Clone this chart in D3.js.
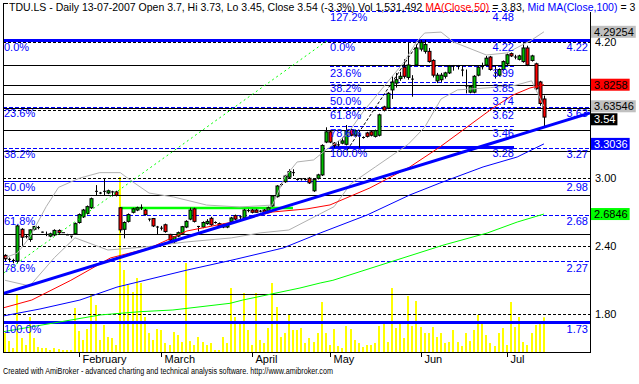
<!DOCTYPE html>
<html><head><meta charset="utf-8">
<script src="https://cdn.jsdelivr.net/npm/d3@7/dist/d3.min.js"></script>
<style>html,body{margin:0;padding:0;background:#fff;overflow:hidden}svg{display:block}</style>
</head><body><svg id="chart" width="639" height="384"></svg>
<script>
// ---------------- DATA ----------------
const firstDate = "2007-01-08";
const holidays = ["2007-04-06", "2007-04-09", "2007-05-01"];
const monthLabels = ["February", "March", "April", "May", "Jun", "Jul"];

const open  = [2.32,2.29,2.28,2.27,2.55,2.49,2.46,2.55,2.57,2.53,2.51,2.49,2.50,2.54,2.52,2.50,2.49,2.51,2.61,2.66,2.69,2.74,2.89,2.87,2.88,2.87,2.88,2.88,2.74,2.55,2.62,2.70,2.72,2.74,2.72,2.64,2.645,2.57,2.56,2.59,2.505,2.44,2.49,2.515,2.57,2.64,2.73,2.58,2.57,2.60,2.647,2.61,2.60,2.59,2.57,2.62,2.67,2.66,2.65,2.72,2.72,2.72,2.71,2.72,2.71,2.756,2.838,2.94,2.97,3.01,3.05,2.99,3.00,2.99,3.00,2.89,3.00,3.03,3.32,3.41,3.31,3.29,3.31,3.30,3.43,3.38,3.38,3.36,3.40,3.41,3.37,3.38,3.63,3.62,3.78,3.84,3.88,3.98,3.89,3.88,4.00,4.14,4.12,4.12,4.04,3.86,3.87,3.90,3.93,3.99,3.99,3.96,3.82,3.76,3.76,3.91,3.98,4.00,4.07,3.93,3.91,3.96,4.01,4.10,4.07,4.05,4.03,4.15,4.04,4.01,3.85,3.70];
const high  = [2.33,2.30,2.29,2.59,2.56,2.50,2.55,2.58,2.58,2.53,2.53,2.52,2.55,2.55,2.52,2.51,2.49,2.61,2.69,2.73,2.76,2.83,2.94,2.88,3.00,2.90,2.89,2.89,2.745,2.62,2.69,2.74,2.75,2.77,2.73,2.645,2.65,2.58,2.58,2.60,2.51,2.49,2.53,2.58,2.63,2.74,2.74,2.58,2.62,2.64,2.66,2.62,2.61,2.60,2.60,2.66,2.68,2.67,2.73,2.73,2.73,2.73,2.72,2.73,2.75,2.85,2.94,2.96,3.03,3.08,3.08,3.00,3.00,3.00,3.01,3.00,3.04,3.30,3.45,3.42,3.32,3.33,3.36,3.47,3.44,3.43,3.40,3.37,3.41,3.42,3.43,3.57,3.64,3.76,3.90,3.93,3.94,4.05,4.20,3.91,4.18,4.22,4.22,4.15,4.05,3.93,3.93,3.94,4.00,4.00,4.00,3.99,3.96,3.82,3.91,3.99,4.02,4.08,4.08,3.99,3.97,4.04,4.10,4.11,4.09,4.09,4.19,4.17,4.09,4.02,3.86,3.73];
const low   = [2.27,2.26,2.25,2.25,2.40,2.47,2.44,2.54,2.55,2.52,2.49,2.48,2.49,2.51,2.52,2.50,2.47,2.50,2.60,2.65,2.68,2.73,2.85,2.86,2.85,2.86,2.84,2.84,2.52,2.47,2.61,2.69,2.71,2.72,2.67,2.62,2.57,2.50,2.54,2.52,2.44,2.43,2.48,2.51,2.56,2.63,2.61,2.53,2.56,2.59,2.58,2.60,2.57,2.56,2.56,2.61,2.63,2.64,2.64,2.70,2.69,2.70,2.70,2.69,2.70,2.75,2.83,2.93,2.96,3.00,3.02,2.98,2.98,2.98,2.95,2.88,2.99,3.02,3.31,3.31,3.27,3.28,3.30,3.29,3.37,3.37,3.27,3.35,3.36,3.37,3.36,3.37,3.59,3.61,3.70,3.80,3.86,3.88,3.87,3.72,3.99,4.12,4.10,4.02,3.89,3.84,3.85,3.88,3.92,3.95,3.96,3.90,3.75,3.75,3.75,3.90,3.96,3.99,3.95,3.88,3.90,3.95,4.00,4.07,4.05,4.04,4.02,3.99,4.03,3.78,3.64,3.45];
const close = [2.29,2.28,2.27,2.58,2.48,2.48,2.545,2.575,2.56,2.52,2.50,2.51,2.54,2.52,2.52,2.50,2.49,2.60,2.68,2.72,2.75,2.82,2.88,2.87,2.89,2.89,2.88,2.85,2.545,2.61,2.68,2.73,2.74,2.74,2.68,2.64,2.58,2.57,2.56,2.53,2.455,2.485,2.52,2.573,2.62,2.72,2.62,2.57,2.61,2.62,2.59,2.61,2.58,2.57,2.59,2.65,2.64,2.66,2.72,2.71,2.70,2.70,2.71,2.70,2.74,2.844,2.932,2.95,3.02,3.06,3.05,2.99,2.99,2.99,2.96,2.99,3.03,3.29,3.41,3.32,3.29,3.30,3.33,3.42,3.38,3.42,3.38,3.36,3.37,3.38,3.42,3.56,3.60,3.75,3.85,3.87,3.90,3.90,4.00,3.87,4.15,4.20,4.18,4.03,3.91,3.91,3.91,3.93,3.99,3.99,3.99,3.95,3.81,3.81,3.90,3.98,3.99,4.06,3.96,3.93,3.96,4.03,4.09,4.08,4.07,4.08,4.15,4.00,4.08,3.79,3.66,3.54];
// volume in thousands of shares
const volume = [838,485,177,2515,618,309,1545,618,221,177,177,88,177,132,88,88,88,1942,927,530,1015,2515,2074,530,1192,662,618,309,7723,3619,2957,2648,3266,3045,1545,838,530,1015,971,397,309,883,750,441,3928,485,309,662,441,309,397,88,88,662,397,2824,1545,1280,2604,971,309,2604,530,397,1059,3045,1986,662,838,1633,971,971,1059,397,618,441,838,2207,838,309,1015,265,177,1147,1015,530,397,221,309,309,397,1147,1280,441,2824,1059,1280,618,2471,1147,2251,1103,838,838,1103,662,838,397,441,971,441,265,838,485,971,1633,1280,750,397,265,838,1059,309,2207,1103,1545,441,309,838,1192,1280,1531.492];

// moving averages & bands read at sample bars: [barIndex, price]
const ma50  = [[-0.5,1.856],[6.5,1.926],[16,2.10],[25.6,2.297],[35.2,2.385],[44.2,2.535],[55.4,2.615],[65.1,2.703],[73.4,2.73],[79,2.765],[88.7,2.915],[98.4,3.10],[105.7,3.276],[112.3,3.452],[118.6,3.62],[123.5,3.735],[127.6,3.797],[131,3.8258]];
const ma100 = [[-0.5,1.785],[8.5,1.847],[18.2,1.926],[27.2,2.04],[44.2,2.19],[55.4,2.28],[67.6,2.385],[76.6,2.517],[88,2.676],[98.4,2.853],[105.7,2.958],[116.2,3.10],[124.5,3.188],[131,3.3036]];
const ma200 = [[-0.5,1.646],[23.1,1.794],[32.8,1.823],[40.8,1.838],[54.7,1.897],[57.8,1.926],[71.7,2.032],[76.6,2.076],[79.7,2.10],[93.6,2.261],[106.5,2.41],[117.2,2.517],[124.5,2.614],[131,2.6846]];
const bbUpper = [[0,2.30],[3,2.34],[6,2.48],[10,2.75],[13,2.92],[18,3.00],[23,3.05],[28,3.05],[31,2.97],[35,2.87],[41,2.835],[49,2.764],[57,2.747],[65,2.764],[68,3.01],[71,3.144],[75,3.162],[78,3.25],[83,3.38],[87,3.585],[93,3.85],[97,4.026],[100,4.203],[102,4.282],[106,4.29],[109,4.203],[117,4.088],[122,4.106],[128,4.22],[131,4.29254]];
const bbLower = [[0,2.10],[6,2.05],[12,2.30],[17,2.475],[25,2.367],[34,2.394],[44,2.438],[55,2.474],[62,2.518],[69,2.544],[77,2.694],[80,2.75],[84,2.95],[90,3.10],[98,3.30],[102,3.45],[106,3.70],[110,3.78],[118,3.80],[124,3.82],[128,3.86],[131,3.63546]];

// drawn studies
const gridLevels = [1.80, 2.40, 3.00, 3.60, 4.20];
const axisLabels = [1.80, 2.40, 3.00, 4.20];
const hLines = [4.00, 3.8206, 3.7412, 3.6176, 3.4235, 3.2409, 2.85, 2.5067, 1.9764];
const fibLevels = [0, 0.236, 0.382, 0.5, 0.618, 0.786, 1];
const fibNames  = ["0.0%", "23.6%", "38.2%", "50.0%", "61.8%", "78.6%", "100.0%"];
const fib1Values = [4.22, 3.63, 3.27, 2.98, 2.68, 2.27, 1.73];
const fib1Trend = [[-17, 1.73], [78.5, 4.22]];
const fib2Values = [4.22, 3.99, 3.85, 3.74, 3.62, 3.46, 3.28];
const fib2Ext = {name: "127.2%", value: 4.48};
const fib2Range = [79, 123.7];
const fib2Trend = [[83.2, 3.25], [100.9, 4.22]];
const trendLine = [[-0.5, 1.984], [142.2, 3.576]];
const resistance = {from: 28, to: 70, value: 2.738};
const valueTags = [
  {v: 4.29254, text: "4.29254", bg: "#c0c0c0", fg: "#000"},
  {v: 3.8258, text: "3.8258", bg: "#ff0000", fg: "#000"},
  {v: 3.63546, text: "3.63546", bg: "#c0c0c0", fg: "#000"},
  {v: 3.54, text: "3.54", bg: "#000000", fg: "#fff"},
  {v: 3.3036, text: "3.3036", bg: "#0000ff", fg: "#fff"},
  {v: 2.6846, text: "2.6846", bg: "#00ff00", fg: "#000"}
];

// ---------------- CHART ----------------
const svg = d3.select("#chart");
const FONT = "'Liberation Sans', Arial, sans-serif";
const L = 3, R = 590, T = 3, B = 352;
const nExtra = 142.2;

// dates
const hol = new Set(holidays);
const dates = [];
{
  let d = new Date(firstDate + "T12:00:00Z");
  while (dates.length < open.length) {
    const wd = d.getUTCDay();
    const iso = d.toISOString().slice(0, 10);
    if (wd !== 0 && wd !== 6 && !hol.has(iso)) dates.push(new Date(d));
    d = new Date(d.getTime() + 86400000);
  }
}

const x = d3.scaleLinear().domain([-0.5, nExtra]).range([L, R]);
const y = d3.scaleLinear().domain([1.80, 4.20]).range([314.3, 42.3]);
const yv = d3.scaleLinear().domain([0, 1531.492]).range([B, 317.3]);

svg.append("rect").attr("width", 639).attr("height", 384).attr("fill", "#fff");
svg.append("clipPath").attr("id", "plot").append("rect")
  .attr("x", L).attr("y", T).attr("width", R - L).attr("height", B - T);
const g = svg.append("g").attr("clip-path", "url(#plot)");

const py = v => Math.round(y(v)) + 0.5;

// volume
g.append("g").selectAll("rect").data(volume).join("rect")
  .attr("x", (d, i) => Math.round(x(i)) - 1)
  .attr("width", 2)
  .attr("y", d => yv(d))
  .attr("height", d => B - yv(d))
  .attr("fill", "#ffff00");

// black horizontal study lines
g.append("g").selectAll("line").data(hLines).join("line")
  .attr("x1", L).attr("x2", R).attr("y1", py).attr("y2", py)
  .attr("stroke", "#000").attr("stroke-width", 1).attr("shape-rendering", "crispEdges");

// grid dashed
g.append("g").selectAll("line").data(gridLevels).join("line")
  .attr("x1", L).attr("x2", R).attr("y1", py).attr("y2", py)
  .attr("stroke", "#000").attr("stroke-dasharray", "3,2").attr("shape-rendering", "crispEdges");

// Fib 1 lines
function fibStyle(sel, k) {
  if (k === 0 || k === 6) sel.attr("stroke-width", 3);
  else if (k === 3) sel.attr("stroke-width", 1);
  else sel.attr("stroke-width", 1).attr("stroke-dasharray", "4,2");
}
fibLevels.forEach((f, k) => {
  const ln = g.append("line").attr("x1", L).attr("x2", R)
    .attr("y1", py(fib1Values[k])).attr("y2", py(fib1Values[k]))
    .attr("stroke", "#0000ff").attr("shape-rendering", "crispEdges");
  fibStyle(ln, k);
});
// Fib 2 lines
fibLevels.forEach((f, k) => {
  const ln = g.append("line").attr("x1", x(fib2Range[0])).attr("x2", x(fib2Range[1]))
    .attr("y1", py(fib2Values[k])).attr("y2", py(fib2Values[k]))
    .attr("stroke", "#0000ff").attr("shape-rendering", "crispEdges");
  fibStyle(ln, k);
});
g.append("line").attr("x1", x(fib2Range[0])).attr("x2", x(fib2Range[1]))
  .attr("y1", py(fib2Ext.value)).attr("y2", py(fib2Ext.value))
  .attr("stroke", "#0000ff").attr("stroke-dasharray", "4,2").attr("shape-rendering", "crispEdges");

// green resistance
g.append("line").attr("x1", x(resistance.from)).attr("x2", x(resistance.to))
  .attr("y1", y(resistance.value)).attr("y2", y(resistance.value))
  .attr("stroke", "#00ff00").attr("stroke-width", 2.5);

// candles
const cg = g.append("g");
close.forEach((c, i) => {
  const o = open[i], cx = Math.round(x(i)) + 0.5;
  cg.append("line").attr("x1", cx).attr("x2", cx).attr("y1", y(high[i])).attr("y2", y(low[i]))
    .attr("stroke", "#000").attr("stroke-width", 1);
  const top = y(Math.max(o, c)), bot = y(Math.min(o, c));
  if (bot - top < 1.5) {
    cg.append("line").attr("x1", cx - 1.5).attr("x2", cx + 1.5).attr("y1", (top + bot) / 2).attr("y2", (top + bot) / 2)
      .attr("stroke", "#000");
  } else {
    cg.append("rect").attr("x", cx - 1.5).attr("width", 3).attr("y", top).attr("height", bot - top)
      .attr("fill", c >= o ? "#00c000" : "#ff0000").attr("stroke", "#000").attr("stroke-width", 1);
  }
});

// lines
const line = d3.line().x(d => x(d[0])).y(d => y(d[1]));
[[bbUpper, "#b0b0b0"], [bbLower, "#b0b0b0"], [ma200, "#00ff00"], [ma100, "#0000ff"], [ma50, "#ff0000"]]
  .forEach(([d, c]) => g.append("path").attr("d", line(d)).attr("fill", "none").attr("stroke", c).attr("stroke-width", 1));

// trend line thick blue
g.append("path").attr("d", line(trendLine)).attr("stroke", "#0000ff").attr("stroke-width", 3);
// fib trend lines
g.append("path").attr("d", line(fib1Trend)).attr("stroke", "#00ff00").attr("stroke-width", 1).attr("stroke-dasharray", "2,3");
g.append("path").attr("d", line(fib2Trend)).attr("stroke", "#000").attr("stroke-width", 1).attr("stroke-dasharray", "3,2");

// fib labels
const lab = g.append("g").attr("font-family", FONT).attr("font-size", 11).attr("fill", "#0000ff");
fibLevels.forEach((f, k) => {
  lab.append("text").attr("x", L + 1).attr("y", y(fib1Values[k]) + 10.5).text(fibNames[k]);
  lab.append("text").attr("x", R - 2).attr("y", y(fib1Values[k]) + 10.5).attr("text-anchor", "end").text(fib1Values[k].toFixed(2));
  lab.append("text").attr("x", x(fib2Range[0])).attr("y", y(fib2Values[k]) + 10.5).text(fibNames[k]);
  lab.append("text").attr("x", x(fib2Range[1])).attr("y", y(fib2Values[k]) + 10.5).attr("text-anchor", "end").text(fib2Values[k].toFixed(2));
});
lab.append("text").attr("x", x(fib2Range[0])).attr("y", y(fib2Ext.value) + 10.5).text(fib2Ext.name);
lab.append("text").attr("x", x(fib2Range[1])).attr("y", y(fib2Ext.value) + 10.5).attr("text-anchor", "end").text(fib2Ext.value.toFixed(2));

// frame
const fr = svg.append("g").attr("stroke", "#000").attr("shape-rendering", "crispEdges");
fr.append("line").attr("x1", L + 0.5).attr("x2", L + 0.5).attr("y1", T).attr("y2", B + 1);
fr.append("line").attr("x1", L).attr("x2", L + 5).attr("y1", T + 0.5).attr("y2", T + 0.5);
fr.append("line").attr("x1", R + 0.5).attr("x2", R + 0.5).attr("y1", 12).attr("y2", B + 1);
fr.append("line").attr("x1", L).attr("x2", R + 1).attr("y1", B + 0.5).attr("y2", B + 0.5);

// right axis labels
svg.append("g").selectAll("text").data(axisLabels).join("text")
  .attr("x", 595).attr("y", d => y(d) + 4).attr("font-family", FONT).attr("font-size", 11)
  .attr("fill", "#000").text(d => d.toFixed(2));

// value tags (pushed apart when they would overlap)
{
  const tags = valueTags.map(t => ({...t, cy: y(t.v)})).sort((a, b) => a.cy - b.cy);
  let prevBottom = -Infinity;
  tags.forEach(t => {
    let top = t.cy - 6;
    if (top < prevBottom + 1) top = prevBottom + 1;
    prevBottom = top + 12;
    const tx = svg.append("text").attr("x", 594).attr("y", top + 10).attr("font-family", FONT).attr("font-size", 11)
      .attr("fill", t.fg).text(t.text);
    const w = tx.node().getComputedTextLength();
    svg.insert("rect", () => tx.node()).attr("x", 591).attr("y", top).attr("width", w + 5).attr("height", 12).attr("fill", t.bg);
  });
}

// x axis months
const ticks = [];
for (let i = 1; i < dates.length; i++) if (dates[i].getUTCMonth() !== dates[i - 1].getUTCMonth()) ticks.push(i);
ticks.forEach((i, k) => {
  const tx = Math.round(x(i)) + 0.5;
  svg.append("line").attr("x1", tx).attr("x2", tx).attr("y1", B).attr("y2", B + 5).attr("stroke", "#000").attr("shape-rendering", "crispEdges");
  svg.append("text").attr("x", tx + 3).attr("y", 363).attr("font-family", FONT).attr("font-size", 11).attr("fill", "#000").text(monthLabels[k]);
});

// title (single text line with coloured parts, as visible in the window)
const titleParts = [
  {t: "TDU.LS - Daily 13-07-2007 Open 3.7, Hi 3.73, Lo 3.45, Close 3.54 (-3.3%) Vol 1,531,492 ", c: "#000"},
  {t: "MA(Close,50)", c: "#ff0000"},
  {t: " = 3.83, ", c: "#000"},
  {t: "Mid MA(Close,100)", c: "#0000ff"},
  {t: " = 3", c: "#000"}
];
const tt = svg.append("text").attr("x", 9).attr("y", 10.5).attr("font-family", FONT).attr("font-size", 10.5)
  .attr("xml:space", "preserve").style("white-space", "pre");
titleParts.forEach(p => tt.append("tspan").attr("fill", p.c).text(p.t));

// footer
svg.append("text").attr("x", 3).attr("y", 374).attr("font-family", FONT).attr("font-size", 8.5)
  .attr("fill", "#000").attr("textLength", 330).attr("lengthAdjust", "spacingAndGlyphs")
  .text("Created with AmiBroker - advanced charting and technical analysis software. http://www.amibroker.com");
</script></body></html>
